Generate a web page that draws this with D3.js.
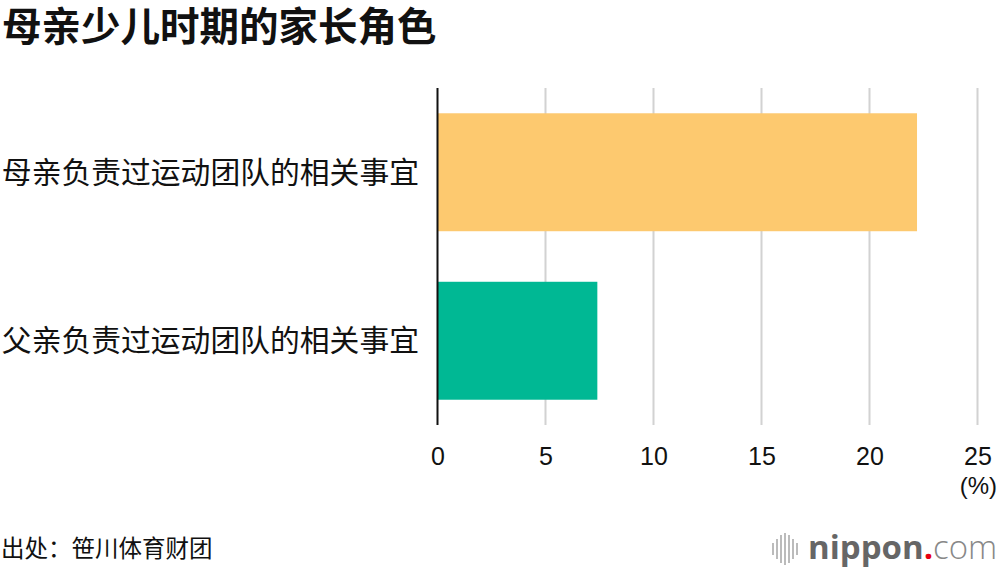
<!DOCTYPE html>
<html>
<head>
	<meta charset='utf-8'>
	<title>母亲少儿时期的家长角色</title>
	<style>
		body { margin: 0; background: #fff; }
		svg { display: block; font-family: 'Liberation Sans', 'Noto Sans CJK SC', sans-serif; }
		.cjk { font-family: 'Noto Sans CJK SC', sans-serif; }
		.grid line { stroke: #d2d2d2; stroke-width: 2px; }
		.axis__x text { font-size: 25px; fill: #111; }
		.axis__x path, .axis__x line { display: none; }
	</style>
</head>
<body>
<div id="chart"></div>
<script src='https://d3js.org/d3.v7.min.js'></script>
<script>
	'use strict';

	const title = '母亲少儿时期的家长角色';
	const categories = ['母亲负责过运动团队的相关事宜', '父亲负责过运动团队的相关事宜'];
	const values = [22.2, 7.4];
	const colors = ['#fdc96f', '#00b894'];
	const xTicks = [0, 5, 10, 15, 20, 25];
	const unitLabel = '(%)';
	const source = '出处：笹川体育财团';

	const width = 1000, height = 570;
	const plot = {left: 437.5, right: 977.5, top: 88, bottom: 425};

	const svg = d3.select('#chart').append('svg')
		.attr('width', width)
		.attr('height', height);

	const xScale = d3.scaleLinear().domain([0, 25]).range([plot.left, plot.right]);
	const yScale = d3.scaleBand().domain(categories)
		.range([plot.top, plot.bottom])
		.paddingInner(0.3)
		.paddingOuter(0.15);

	// заголовок
	svg.append('text')
		.attr('class', 'cjk')
		.attr('x', 2).attr('y', 41)
		.attr('font-size', 39.5).attr('font-weight', 'bold')
		.attr('fill', '#111')
		.text(title);

	// сетка
	svg.append('g').attr('class', 'grid')
		.selectAll('line')
		.data(xTicks.slice(1))
		.enter().append('line')
		.attr('x1', d => xScale(d)).attr('x2', d => xScale(d))
		.attr('y1', plot.top).attr('y2', plot.bottom);

	// бары
	svg.selectAll('rect.bar')
		.data(categories)
		.enter().append('rect')
		.attr('class', 'bar')
		.attr('x', xScale(0))
		.attr('y', d => yScale(d))
		.attr('width', (d, i) => xScale(values[i]) - xScale(0))
		.attr('height', yScale.bandwidth())
		.attr('fill', (d, i) => colors[i]);

	// ось y
	svg.append('line')
		.attr('x1', xScale(0)).attr('x2', xScale(0))
		.attr('y1', plot.top).attr('y2', plot.bottom)
		.attr('stroke', '#111').attr('stroke-width', 2);

	svg.selectAll('text.cat')
		.data(categories)
		.enter().append('text')
		.attr('class', 'cat cjk')
		.attr('x', 419)
		.attr('y', d => yScale(d) + yScale.bandwidth() / 2)
		.attr('dy', '0.35em')
		.attr('text-anchor', 'end')
		.attr('font-size', 29.8)
		.attr('fill', '#111')
		.text(d => d);

	// ось x
	svg.append('g')
		.attr('class', 'axis axis__x')
		.attr('transform', 'translate(0,' + plot.bottom + ')')
		.call(d3.axisBottom(xScale).tickValues(xTicks).tickSize(0).tickPadding(22));

	svg.append('text')
		.attr('x', 997).attr('y', 494)
		.attr('text-anchor', 'end')
		.attr('font-size', 24).attr('fill', '#111')
		.text(unitLabel);

	// источник
	svg.append('text')
		.attr('class', 'cjk')
		.attr('x', 1).attr('y', 557)
		.attr('font-size', 23.5).attr('fill', '#111')
		.text(source);

	// логотип
	const logo = svg.append('g').attr('transform', 'translate(772,0)');
	const stripes = [[0, 6], [4, 10], [8, 14], [12, 16], [16, 14], [20, 10], [24, 6]];
	logo.selectAll('rect')
		.data(stripes)
		.enter().append('rect')
		.attr('x', d => d[0])
		.attr('y', d => 549 - d[1])
		.attr('width', 2)
		.attr('height', d => d[1] * 2)
		.attr('fill', '#bbb');
	const logoText = logo.append('text')
		.attr('x', 36).attr('y', 559)
		.attr('font-family', "'Open Sans', sans-serif")
		.attr('font-size', 33);
	logoText.append('tspan').attr('font-weight', 'bold').attr('fill', '#666').text('nippon');
	logoText.append('tspan').attr('fill', '#e60012').attr('font-weight', 'bold').text('.');
	logoText.append('tspan').attr('fill', '#888').attr('font-weight', '300').text('com');
</script>
</body>
</html>
